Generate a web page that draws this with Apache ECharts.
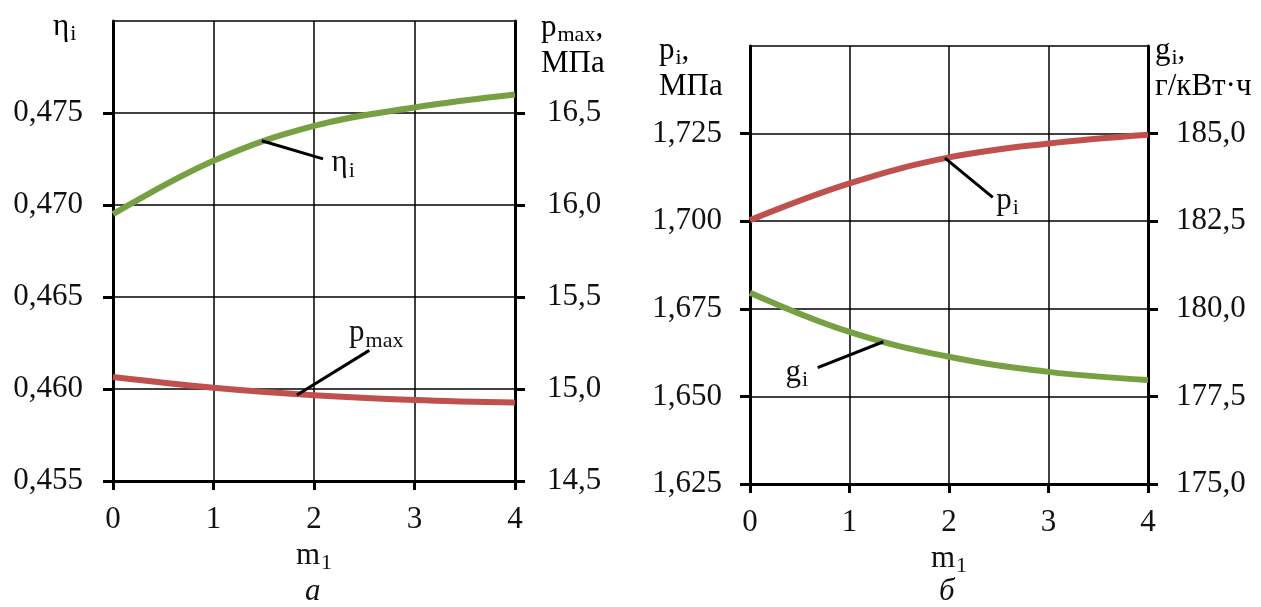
<!DOCTYPE html>
<html>
<head>
<meta charset="utf-8">
<script src="https://cdn.jsdelivr.net/npm/echarts@6/dist/echarts.min.js"></script>
<style>html,body{margin:0;padding:0;background:#fff}#c{width:1261px;height:607px}</style>
</head>
<body>
<div id="c"></div>
<script>
// ---- data ----
const m1 = [0, 1, 2, 3, 4];
const etaI = [0.4695, 0.4724, 0.4743, 0.4753, 0.4760];
const pMax = [15.065, 15.007, 14.966, 14.940, 14.926];
const pI = [1.7003, 1.7108, 1.7182, 1.7222, 1.7247];
const gI = [180.46, 179.34, 178.63, 178.20, 177.97];
// leader lines (data space): [start on curve, end near label]
const etaLeader = [[1.48, 0.47349], [2.09, 0.47251]];
const pmaxLeader = [[1.83, 14.967], [2.55, 15.21]];
const piLeader = [[1.96, 1.7180], [2.44, 1.7068]];
const giLeader = [[1.34, 179.06], [0.68, 178.32]];
const xTicks = [0, 4, 1];
const yA_left = [0.455, 0.480, 0.005];
const yA_right = [14.5, 17.0, 0.5];
const yB_left = [1.625, 1.750, 0.025];
const yB_right = [175.0, 187.5, 2.5];

const FF = "'Liberation Serif','Times New Roman',serif";
const FS = 31;
const GREEN = '#77a043';
const RED = '#c0504d';
const rich = {
  a: {fontFamily: FF, fontSize: FS, color: '#111', lineHeight: 34},
  b: {fontFamily: FF, fontSize: FS, color: '#111', lineHeight: 34, padding: [0, 0, 4, 0]},
  s: {fontFamily: FF, fontSize: 22, color: '#111', verticalAlign: 'bottom', lineHeight: 22, padding: [0,0,0,1]}
};
const comma = d => v => v.toFixed(d).replace('.', ',');

function xAxis(gi) {
  return {
    type: 'value', gridIndex: gi, min: xTicks[0], max: xTicks[1], interval: xTicks[2],
    axisLine: {lineStyle: {color: '#000', width: 3}},
    axisTick: {show: true, inside: false, length: 9, lineStyle: {color: '#000', width: 3}},
    axisLabel: {fontFamily: FF, fontSize: FS, color: '#111', margin: 23},
    splitLine: {show: true, lineStyle: {color: '#000', width: 1.5}},
    name: '{b|m}{s|1}', nameLocation: 'middle', nameGap: 58,
    nameTextStyle: {rich: rich}
  };
}
function yAxis(gi, r, pos, dec, split, margin) {
  return {
    type: 'value', gridIndex: gi, min: r[0], max: r[1], interval: r[2], position: pos,
    axisLine: {show: true, onZero: false, lineStyle: {color: '#000', width: 3}},
    axisTick: {show: true, inside: false, length: 10, lineStyle: {color: '#000', width: 3}},
    axisLabel: {fontFamily: FF, fontSize: FS, color: '#111', margin: margin, formatter: comma(dec), showMaxLabel: false},
    splitLine: {show: split, lineStyle: {color: '#000', width: 1.5}}
  };
}
function curve(data, xi, yi, color) {
  return {type: 'line', xAxisIndex: xi, yAxisIndex: yi, data: m1.map((x, i) => [x, data[i]]),
    smooth: 0.4, showSymbol: false, symbol: 'none', silent: true,
    lineStyle: {color: color, width: 6}, z: 3};
}
function leader(pts, xi, yi) {
  return {type: 'line', xAxisIndex: xi, yAxisIndex: yi, silent: true, symbol: 'none', showSymbol: false,
    lineStyle: {color: '#000', width: 3}, z: 4, data: pts};
}
function tag(pt, xi, yi, text, pos, dist, offset) {
  return {type: 'scatter', xAxisIndex: xi, yAxisIndex: yi, silent: true, symbol: 'circle', symbolSize: 1,
    itemStyle: {color: 'rgba(255,255,255,0)', opacity: 1}, z: 5,
    label: {show: true, position: pos, distance: dist, offset: offset, formatter: text, rich: rich, color: '#111', opacity: 1},
    data: [pt]};
}

const chart = echarts.init(document.getElementById('c'));
chart.setOption({
  animation: false,
  backgroundColor: '#fff',
  grid: [
    {left: 113, right: 746, top: 21, bottom: 126},
    {left: 750, right: 113, top: 46, bottom: 123}
  ],
  xAxis: [xAxis(0), xAxis(1)],
  yAxis: [
    yAxis(0, yA_left, 'left', 3, true, 30),
    yAxis(0, yA_right, 'right', 1, false, 32),
    yAxis(1, yB_left, 'left', 3, true, 28),
    yAxis(1, yB_right, 'right', 1, false, 28)
  ],
  series: [
    curve(etaI, 0, 0, GREEN),
    curve(pMax, 0, 1, RED),
    curve(pI, 1, 2, RED),
    curve(gI, 1, 3, GREEN),
    leader(etaLeader, 0, 0),
    leader(pmaxLeader, 0, 1),
    leader(piLeader, 1, 2),
    leader(giLeader, 1, 3),
    tag(etaLeader[1], 0, 0, '{b|η}{s|i}', 'right', 8, [0, 6]),
    tag(pmaxLeader[1], 0, 1, '{b|p}{s|max}', 'top', 0, [7, 2]),
    tag(piLeader[1], 1, 2, '{b|p}{s|i}', 'right', 3, [0, 5]),
    tag(giLeader[1], 1, 3, '{b|g}{s|i}', 'left', 9, [0, 7])
  ],
  graphic: [
    {type: 'text', left: 53, top: 11, style: {text: '{b|η}{s|i}', rich: rich}},
    {type: 'text', left: 541, top: 12, style: {text: '{b|p}{s|max}{b|,}\n{a|МПа}', rich: rich, align: 'center'}},
    {type: 'text', left: 659, top: 35, style: {text: '{b|p}{s|i}{b|,}\n{a|МПа}', rich: rich, align: 'center'}},
    {type: 'text', left: 1155, top: 35, style: {text: '{b|g}{s|i}{b|,}\n{a|г/кВт·ч}', rich: rich, align: 'center'}},
    {type: 'text', left: 305, top: 576, style: {text: 'а', font: 'italic 31px ' + FF, fill: '#111'}},
    {type: 'text', left: 939, top: 576, style: {text: 'б', font: 'italic 31px ' + FF, fill: '#111'}}
  ]
});
</script>
</body>
</html>
